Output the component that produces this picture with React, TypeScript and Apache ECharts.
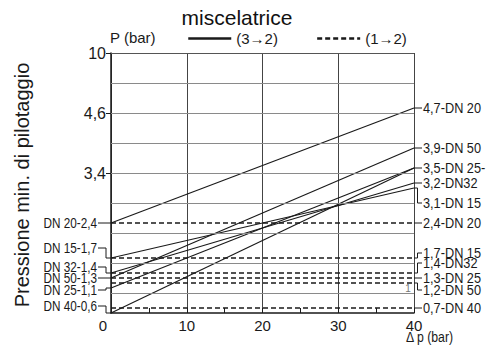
import React, { useEffect, useRef } from "react";
import * as echarts from "echarts";

// ---------- data ----------
const deltaPRange = [0, 40]; // Δp (bar)
const dnSolid = ["DN 20", "DN 15", "DN 32", "DN 50", "DN 25", "DN 40"]; // (3→2)
const pSolidStart = [2.4, 1.7, 1.4, 1.3, 1.1, 0.6];
const pSolidEnd = [4.7, 3.1, 3.2, 3.9, 3.5, 3.5];
const dnDashed = ["DN 20", "DN 15", "DN 32", "DN 25", "DN 50", "DN 40"]; // (1→2)
const pDashed = [2.4, 1.7, 1.4, 1.3, 1.2, 0.7];

const yMin = 0.6;
const yMax = 5.8; // drawn as "10" (broken axis)
const yTickValues = [3.4, 4.6, 5.8];
const yTickLabels = ["3,4", "4,6", "10"];
const yGridValues = [1.0, 1.6, 2.2, 2.8, 3.4, 4.0, 4.6, 5.2];

const leftLabelTexts = ["DN 20-2,4", "DN 15-1,7", "DN 32-1,4", "DN 50-1,3", "DN 25-1,1", "DN 40-0,6"];
const rightSolidTexts = ["4,7-DN 20", "3,1-DN 15", "3,2-DN32", "3,9-DN 50", "3,5-DN 25-", ""];
const rightDashedTexts = ["2,4-DN 20", "1,7-DN 15", "1,4-DN32", "1,3-DN 25", "1,2-DN 50", "0,7-DN 40"];

// ---------- layout (label vertical shifts, px) ----------
const leftShift = [0, -10, -6, 0, 2, -7];
const rightSolidShift = [0, 15, 0, 0, 0, 0];
const rightDashedShift = [0, -5, -10, 0, 7, 0];

const FONT = '"Liberation Sans", Arial, Helvetica, sans-serif';
const INK = "#1a1a1a";

export default function App() {
  const ref = useRef<HTMLDivElement>(null);

  useEffect(() => {
    const el = ref.current as HTMLDivElement;
    const chart = echarts.init(el, null, { renderer: "svg" });

    const series: any[] = [];
    series.push({
      type: "line",
      silent: true,
      data: [],
      z: 1,
      markLine: {
        silent: true,
        symbol: ["none", "none"],
        label: { show: false },
        animation: false,
        lineStyle: { color: "#8a8a8a", width: 1.2, type: "solid" },
        data: [
          ...yGridValues.map((v) => ({ yAxis: v })),
          { yAxis: yMax, lineStyle: { color: "#555", width: 1.2, type: "solid" } },
        ],
      },
    });
    dnSolid.forEach((dn, i) => {
      series.push({
        type: "line",
        name: "(3→2)",
        symbol: "none",
        z: 3,
        color: INK,
        lineStyle: { color: INK, width: 1.2, type: "solid" },
        data: [
          [deltaPRange[0], pSolidStart[i]],
          [deltaPRange[1], pSolidEnd[i]],
        ],
      });
    });
    dnDashed.forEach((dn, i) => {
      series.push({
        type: "line",
        name: "(1→2)",
        symbol: "none",
        z: 3,
        color: INK,
        lineStyle: { color: INK, width: 1.3, type: [5, 3] },
        data: [
          [deltaPRange[0], pDashed[i]],
          [deltaPRange[1], pDashed[i]],
        ],
      });
    });

    chart.setOption({
      animation: false,
      textStyle: { fontFamily: FONT },
      grid: { left: 111, right: 72, top: 53, bottom: 37, outerBoundsMode: "none" },
      legend: {
        data: ["(3→2)", "(1→2)"],
        left: 187,
        top: 31,
        itemWidth: 43,
        itemHeight: 14,
        itemGap: 38,
        padding: 0,
        selectedMode: false,
        lineStyle: { width: 2.5, color: INK },
        itemStyle: { color: "rgba(0,0,0,0)", borderColor: "rgba(0,0,0,0)", borderWidth: 0, opacity: 0 },
        textStyle: { fontSize: 15, color: INK, fontFamily: FONT },
      },
      xAxis: {
        type: "value",
        min: deltaPRange[0],
        max: deltaPRange[1],
        interval: 10,
        axisLine: { show: true, lineStyle: { color: INK, width: 1.5 } },
        axisTick: { show: true, inside: true, length: 5, lineStyle: { color: INK } },
        minorTick: { show: true, splitNumber: 2, length: 5, lineStyle: { color: INK, width: 1 } },
        minorSplitLine: { show: false },
        splitLine: { show: true, lineStyle: { color: "#444", width: 1 } },
        axisLabel: {
          fontSize: 15,
          color: INK,
          margin: 5,
          fontFamily: FONT,
          // the "0" label sits left of the corner in the original; drawn below
          formatter: (v: number) => (v === deltaPRange[0] ? "" : String(v)),
        },
      },
      yAxis: {
        type: "value",
        min: yMin,
        max: yMax,
        axisLine: { show: true, lineStyle: { color: INK, width: 1.5 } },
        axisTick: { show: true, length: 5, customValues: yTickValues, lineStyle: { color: INK } },
        splitLine: { show: false },
        axisLabel: {
          customValues: yTickValues,
          fontSize: 16,
          color: INK,
          margin: 5,
          fontFamily: FONT,
          formatter: (v: number) => {
            const idx = yTickValues.findIndex((t) => Math.abs(t - v) < 1e-6);
            return idx >= 0 ? yTickLabels[idx] : "";
          },
        },
      },
      series,
    });

    // ---------- annotations placed through the chart's own scales ----------
    const gfx: any[] = [];
    const toPx = (x: number, y: number) =>
      chart.convertToPixel({ gridIndex: 0 }, [x, y]) as number[];

    const addLabel = (text: string, px: number, py: number, shift: number, dir: number) => {
      if (!text) return;
      const ty = py + shift;
      const k = dir === 1 ? 3.5 : 5;
      const end = dir === 1 ? 8 : 13;
      const pts =
        Math.abs(shift) < 1
          ? [
              [px, py],
              [px + dir * end, py],
            ]
          : [
              [px, py],
              [px + dir * k, py],
              [px + dir * k, ty],
              [px + dir * end, ty],
            ];
      gfx.push({
        type: "polyline",
        silent: true,
        z: 10,
        shape: { points: pts },
        style: { stroke: INK, lineWidth: 1, fill: null },
      });
      gfx.push({
        type: "text",
        silent: true,
        z: 10,
        x: dir === 1 ? px + 9 : px - 14,
        y: ty,
        scaleX: dir === 1 ? 0.91 : 0.84,
        style: {
          text,
          font: `14px ${FONT}`,
          fill: INK,
          align: dir === 1 ? "left" : "right",
          verticalAlign: "middle",
        },
      });
    };

    leftLabelTexts.forEach((t, i) => {
      const [px, py] = toPx(deltaPRange[0], pSolidStart[i]);
      addLabel(t, px, py, leftShift[i], -1);
    });
    rightSolidTexts.forEach((t, i) => {
      const [px, py] = toPx(deltaPRange[1], pSolidEnd[i]);
      addLabel(t, px, py, rightSolidShift[i], 1);
    });
    rightDashedTexts.forEach((t, i) => {
      const [px, py] = toPx(deltaPRange[1], pDashed[i]);
      addLabel(t, px, py, rightDashedShift[i], 1);
    });

    const [ox, oy] = toPx(deltaPRange[0], yMin);

    gfx.push(
      {
        type: "text",
        silent: true,
        x: ox - 8,
        y: oy + 5,
        style: { text: String(deltaPRange[0]), font: `15px ${FONT}`, fill: INK, align: "center", verticalAlign: "top" },
      },
      {
        type: "text",
        silent: true,
        x: 237,
        y: 17,
        style: { text: "miscelatrice", font: `21px ${FONT}`, fill: "#111", align: "center", verticalAlign: "middle" },
      },
      {
        type: "text",
        silent: true,
        x: 110,
        y: 37.5,
        style: { text: "P (bar)", font: `15px ${FONT}`, fill: INK, align: "left", verticalAlign: "middle" },
      },
      {
        type: "text",
        silent: true,
        x: 22,
        y: 185,
        rotation: Math.PI / 2,
        style: {
          text: "Pressione min. di pilotaggio",
          font: `20px ${FONT}`,
          fill: INK,
          align: "center",
          verticalAlign: "middle",
        },
      },
      {
        type: "text",
        silent: true,
        x: 406,
        y: 337,
        scaleX: 0.82,
        style: { text: "Δ p (bar)", font: `15px ${FONT}`, fill: INK, align: "left", verticalAlign: "middle" },
      },
      {
        type: "text",
        silent: true,
        x: 408,
        y: 288,
        style: { text: "1", font: `10px ${FONT}`, fill: "#777", align: "center", verticalAlign: "middle" },
      }
    );

    chart.setOption({ graphic: gfx });

    return () => chart.dispose();
  }, []);

  return (
    <div
      ref={ref}
      style={{ position: "fixed", left: 0, top: 0, width: 486, height: 350, background: "#fff" }}
    />
  );
}
